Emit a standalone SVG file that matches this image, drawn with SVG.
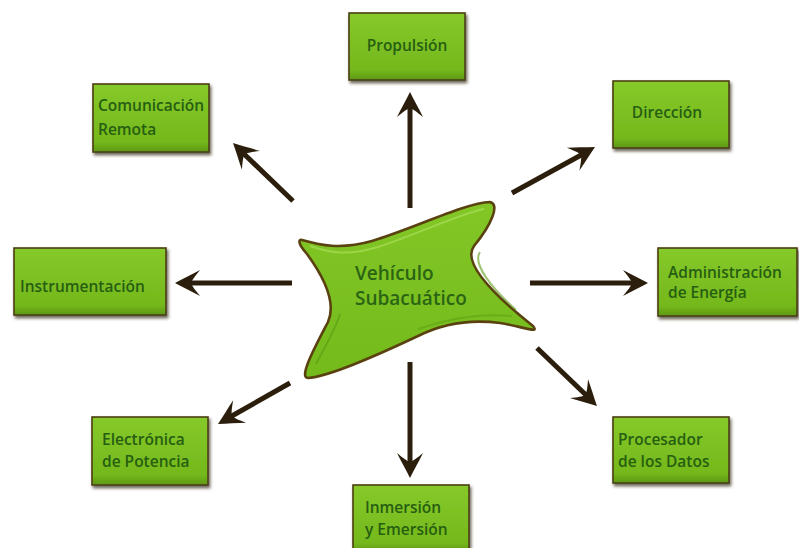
<svg xmlns="http://www.w3.org/2000/svg" width="799" height="548" viewBox="0 0 799 548">
<defs>
<linearGradient id="boxg" x1="0" y1="0" x2="0" y2="1">
<stop offset="0" stop-color="#86c92a"/>
<stop offset="0.85" stop-color="#74b81c"/>
<stop offset="1" stop-color="#5e9814"/>
</linearGradient>
<linearGradient id="starg" x1="0" y1="0" x2="0" y2="1">
<stop offset="0" stop-color="#82c726"/>
<stop offset="1" stop-color="#74ba1b"/>
</linearGradient>
<filter id="sh" x="-10%" y="-10%" width="125%" height="130%">
<feDropShadow dx="1.5" dy="2.5" stdDeviation="1.5" flood-color="#2a2208" flood-opacity="0.7"/>
</filter>
<path id="ah" d="M0,0 C-8,-4 -17,-9 -25,-13 C-20,-7 -17,-3 -16,0 C-17,3 -20,7 -25,13 C-17,9 -8,4 0,0 Z"/>
</defs>
<style>
.box{fill:url(#boxg);stroke:#4c3f14;stroke-width:1.6;filter:url(#sh)}
.t{font-family:"Open Sans","Liberation Sans",sans-serif;font-size:15.5px;font-weight:600;fill:#265e12}
.ct{font-family:"Open Sans","Liberation Sans",sans-serif;font-size:19px;font-weight:600;fill:#2a6414}
.sh{stroke:#2b1e0c;stroke-width:5;stroke-linecap:butt;fill:none}
.hd{fill:#2b1e0c}
</style>
<rect width="799" height="548" fill="#ffffff"/>

<g id="connectors">
<line class="sh" x1="410" y1="208" x2="410" y2="106"/>
<use href="#ah" class="hd" transform="translate(410,92) rotate(-90)"/>
<line class="sh" x1="293" y1="201" x2="243" y2="153"/>
<use href="#ah" class="hd" transform="translate(233,143) rotate(-136)"/>
<line class="sh" x1="512" y1="193" x2="583" y2="154"/>
<use href="#ah" class="hd" transform="translate(595,147) rotate(-29)"/>
<line class="sh" x1="292" y1="283" x2="189" y2="283"/>
<use href="#ah" class="hd" transform="translate(175,283) rotate(180)"/>
<line class="sh" x1="530" y1="283" x2="634" y2="283"/>
<use href="#ah" class="hd" transform="translate(648,283)"/>
<line class="sh" x1="290" y1="383" x2="230" y2="417"/>
<use href="#ah" class="hd" transform="translate(218,424) rotate(150)"/>
<line class="sh" x1="410" y1="362" x2="410" y2="464"/>
<use href="#ah" class="hd" transform="translate(410,478) rotate(90)"/>
<line class="sh" x1="537" y1="348" x2="587" y2="396"/>
<use href="#ah" class="hd" transform="translate(597,406) rotate(44)"/>
</g>

<g id="center">
<path d="M302,240 C320,245 340,250 372,241 C415,228 465,203 490,202 C500,204 492,224 474,246 C462,262 490,292 533,326 C540,334 524,327 500,323 C470,319 442,324 418,336 C382,353 330,377 308,378 C298,378 316,345 328,322 C336,304 326,280 307,254 C298,244 298,239 302,240 Z" fill="url(#starg)" stroke="#5a4210" stroke-width="2.6" stroke-linejoin="round"/>
<path d="M310,246 C330,253 348,256 378,247 C420,233 462,213 484,209" fill="none" stroke="#a8de58" stroke-width="2" opacity="0.7"/>
<path d="M480,252 C472,264 492,288 516,310" fill="none" stroke="#5b9b12" stroke-width="2" opacity="0.6"/>
<path d="M316,364 C326,345 336,328 340,314" fill="none" stroke="#5b9b12" stroke-width="2" opacity="0.6"/>
<path d="M512,316 C480,313 447,319 418,329" fill="none" stroke="#5b9b12" stroke-width="2" opacity="0.5"/>
<text class="ct" x="355" y="280">Vehículo</text>
<text class="ct" x="355" y="305">Subacuático</text>
</g>

<g id="n-propulsion">
<rect class="box" x="349" y="13" width="116" height="67"/>
<text class="t" x="407" y="51" text-anchor="middle">Propulsión</text>
</g>
<g id="n-comunicacion">
<rect class="box" x="93" y="84" width="116" height="68"/>
<text class="t" x="98" y="111">Comunicación</text>
<text class="t" x="98" y="135">Remota</text>
</g>
<g id="n-direccion">
<rect class="box" x="613" y="81" width="116" height="67"/>
<text class="t" x="667" y="118" text-anchor="middle">Dirección</text>
</g>
<g id="n-instrumentacion">
<rect class="box" x="14" y="248" width="152" height="67"/>
<text class="t" x="20" y="292">Instrumentación</text>
</g>
<g id="n-energia">
<rect class="box" x="658" y="248" width="139" height="68"/>
<text class="t" x="668" y="278">Administración</text>
<text class="t" x="668" y="298">de Energía</text>
</g>
<g id="n-electronica">
<rect class="box" x="92" y="417" width="116" height="68"/>
<text class="t" x="102" y="445">Electrónica</text>
<text class="t" x="102" y="467">de Potencia</text>
</g>
<g id="n-procesador">
<rect class="box" x="613" y="417" width="116" height="66"/>
<text class="t" x="618" y="445">Procesador</text>
<text class="t" x="618" y="467">de los Datos</text>
</g>
<g id="n-inmersion">
<rect class="box" x="353" y="485" width="116" height="68"/>
<text class="t" x="365" y="513">Inmersión</text>
<text class="t" x="365" y="535">y Emersión</text>
</g>
</svg>
